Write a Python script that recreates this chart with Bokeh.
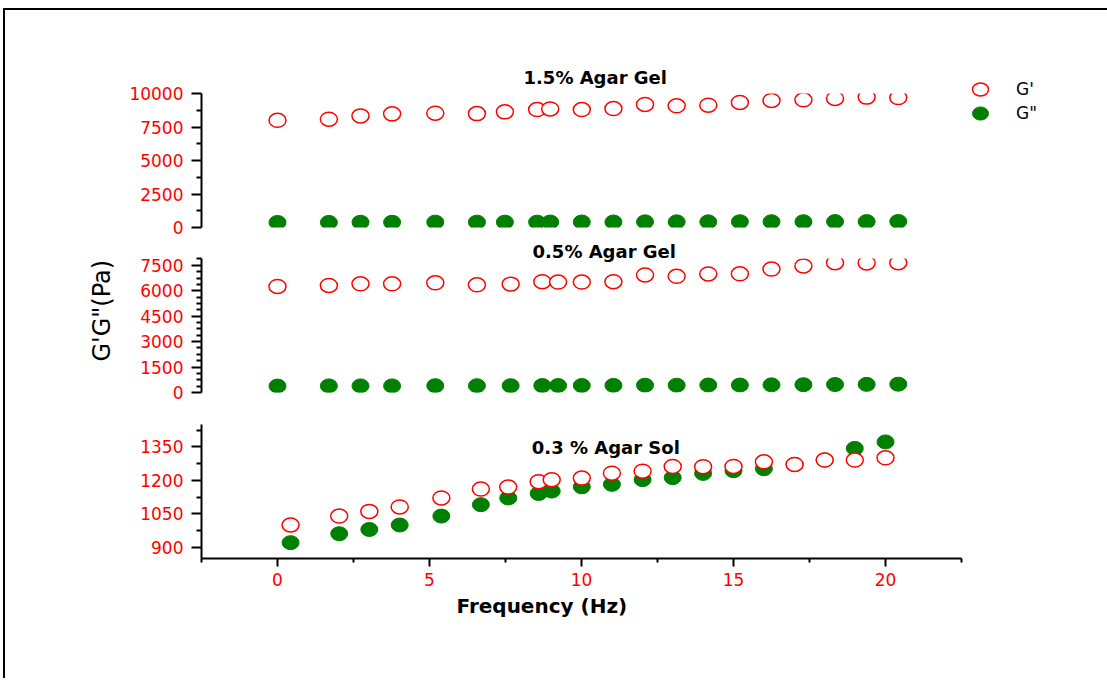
from bokeh.plotting import figure
from bokeh.layouts import column
from bokeh.models import FixedTicker, Label, Legend, LegendItem, Range1d, ColumnDataSource, Title
from bokeh.embed import file_html
from bokeh.resources import INLINE

# ---------------- data ----------------
freq_15 = [0, 1.69, 2.73, 3.77, 5.19, 6.56, 7.48, 8.54, 8.97, 10.01, 11.05, 12.09,
           13.13, 14.17, 15.21, 16.25, 17.30, 18.34, 19.38, 20.42]
gp_15 = [8000, 8080, 8330, 8480, 8530, 8500, 8630, 8800, 8850, 8800, 8880, 9180,
         9080, 9130, 9330, 9480, 9530, 9630, 9730, 9700]
gpp_15 = [380, 380, 390, 390, 400, 400, 400, 400, 410, 410, 410, 420,
          420, 420, 430, 430, 430, 440, 440, 450]

freq_05 = [0, 1.69, 2.73, 3.77, 5.19, 6.56, 7.67, 8.71, 9.23, 10.01, 11.05, 12.09,
           13.13, 14.17, 15.21, 16.25, 17.30, 18.34, 19.38, 20.42]
gp_05 = [6250, 6310, 6410, 6410, 6470, 6350, 6390, 6530, 6510, 6510, 6530, 6930,
         6850, 6990, 7000, 7280, 7460, 7650, 7640, 7650]
gpp_05 = [380, 390, 390, 390, 400, 400, 400, 410, 410, 410, 420, 430,
          430, 440, 440, 450, 460, 470, 480, 490]

freq_03 = [0.43, 2.03, 3.02, 4.02, 5.39, 6.69, 7.59, 8.59, 9.02, 10.01, 11.0, 12.01,
           13.0, 14.0, 15.0, 16.0, 17.01, 18.0, 18.99, 20.0]
gp_03 = [1000, 1040, 1061, 1081, 1121, 1161, 1170, 1194, 1203, 1210, 1232, 1241,
         1262, 1261, 1262, 1283, 1271, 1291, 1291, 1301]
gpp_03 = [921, 961, 980, 1000, 1040, 1091, 1121, 1141, 1152, 1171, 1182, 1203,
          1212, 1231, 1243, 1252, 1271, 1291, 1343, 1372]

x_major = [0, 5, 10, 15, 20]
x_minor = [-2.5, 2.5, 7.5, 12.5, 17.5, 22.5]
y15_major = [0, 2500, 5000, 7500, 10000]
y15_minor = [1250, 3750, 6250, 8750]
y05_major = [0, 1500, 3000, 4500, 6000, 7500]
y05_minor = [375, 750, 1125, 1875, 2250, 2625, 3375, 3750, 4125, 4875, 5250, 5625,
             6375, 6750, 7125, 7875]
y03_major = [900, 1050, 1200, 1350]
y03_minor = [975, 1125, 1275, 1425]

titles = ["1.5% Agar Gel", "0.5% Agar Gel", "0.3 % Agar Sol"]

RED = "#ff0000"
GREEN = "#008000"
FONT = "DejaVu Sans"

X0, X1 = -2.5, 22.5
FRAME_W = 760
FRAME_H = 134
LEFT = 196
RIGHT = 130


def style_axis(ax, tick_out, minor_out):
    ax.axis_line_width = 2
    ax.axis_line_color = "black"
    ax.major_tick_line_width = 2
    ax.minor_tick_line_width = 2
    ax.major_tick_in = 0
    ax.minor_tick_in = 0
    ax.major_tick_out = tick_out
    ax.minor_tick_out = minor_out
    ax.major_label_text_color = RED
    ax.major_label_text_font = FONT
    ax.major_label_text_font_size = "17px"


def make_panel(freq, gp, gpp, yr, ymaj, ymin, top, bottom, show_x):
    p = figure(frame_width=FRAME_W, frame_height=FRAME_H,
               x_range=Range1d(X0, X1), y_range=Range1d(*yr),
               output_backend="svg", toolbar_location=None,
               x_axis_location="below" if show_x else None,
               min_border_left=LEFT, min_border_right=RIGHT,
               min_border_top=top, min_border_bottom=bottom)
    p.outline_line_color = None
    p.grid.visible = False
    p.background_fill_color = "white"
    p.border_fill_color = "white"
    yax = p.yaxis[0]
    yax.ticker = FixedTicker(ticks=ymaj, minor_ticks=ymin)
    style_axis(yax, 10, 5)
    yax.major_label_standoff = 8
    if show_x:
        xax = p.xaxis[0]
        xax.ticker = FixedTicker(ticks=x_major, minor_ticks=x_minor)
        style_axis(xax, 8, 4)
        xax.major_label_standoff = 6
    src = ColumnDataSource(dict(f=freq, gp=gp, gpp=gpp))
    r2 = p.ellipse(x="f", y="gpp", width=17, height=14, width_units="screen",
                   height_units="screen", source=src, fill_color=GREEN,
                   line_color=GREEN, line_width=1)
    r1 = p.ellipse(x="f", y="gp", width=17, height=14, width_units="screen",
                   height_units="screen", source=src, fill_color="white",
                   line_color=RED, line_width=1.5)
    return p, r1, r2


p1, a1, b1 = make_panel(freq_15, gp_15, gpp_15, (0, 10000), y15_major, y15_minor, 83, 13, False)
p2, a2, b2 = make_panel(freq_05, gp_05, gpp_05, (0, 7900), y05_major, y05_minor, 18, 16, False)
p3, a3, b3 = make_panel(freq_03, gp_03, gpp_03, (850, 1450), y03_major, y03_minor, 16, 120, True)

p1.add_layout(Title(text=titles[0], align="left", offset=322, standoff=11,
                    text_font=FONT, text_font_style="bold", text_font_size="18px",
                    text_color="black"), "above")
p2.add_layout(Title(text=titles[1], align="left", offset=331, standoff=-7,
                    text_font=FONT, text_font_style="bold", text_font_size="18px",
                    text_color="black"), "above")
p3.add_layout(Label(x=10.80, y=1347, text=titles[2], text_font=FONT,
                    text_font_style="bold", text_font_size="18px",
                    text_align="center", text_baseline="middle", text_color="black"))

p2.add_layout(Title(text="G'G\"(Pa)", align="left", offset=31, standoff=43,
                    text_font=FONT, text_font_style="normal", text_font_size="24px",
                    text_color="black"), "left")

p3.add_layout(Title(text="Frequency (Hz)", align="left", offset=255, standoff=7,
                    text_font=FONT, text_font_style="bold", text_font_size="20px",
                    text_color="black"), "below")

legend = Legend(items=[LegendItem(label="G'", renderers=[a1]),
                       LegendItem(label='G"', renderers=[b1])],
                location=(9, 104), padding=5, spacing=4, glyph_width=20,
                glyph_height=20, label_standoff=26, margin=0,
                label_text_font=FONT, label_text_font_size="17px",
                label_text_color="black",
                border_line_color=None, background_fill_alpha=0)
p1.add_layout(legend, "right")

layout = column(p1, p2, p3, margin=(8, 0, 0, 3),
                styles={"border-left": "2px solid black", "border-top": "2px solid black"})

open("out.html", "w").write(file_html(layout, INLINE))
